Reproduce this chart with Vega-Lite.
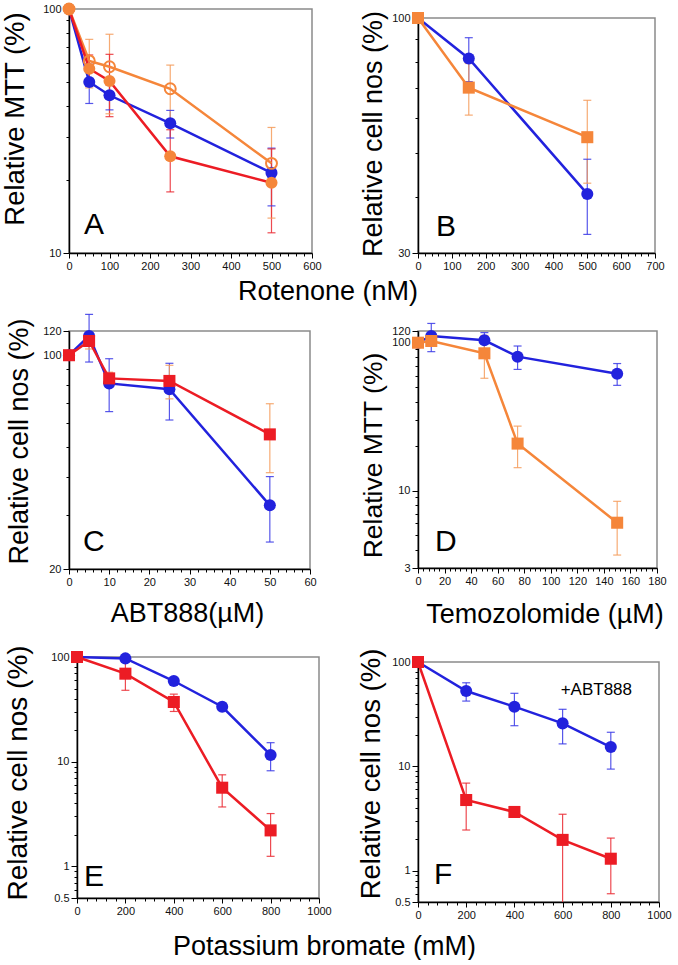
{
"$schema": "https://vega.github.io/schema/vega-lite/v6.json",
"background": "white",
"padding": {"left": 0, "top": -2, "right": 0, "bottom": 0},
"config": {
 "font": "Liberation Sans",
 "view": {"stroke": "#8a8a8a", "strokeWidth": 1.5},
 "axis": {"domainColor": "#000", "domainWidth": 1.5, "tickColor": "#000", "tickWidth": 1, "labelFont": "Liberation Sans", "labelFontSize": 11, "labelColor": "#111", "labelPadding": 2, "titleFont": "Liberation Sans", "titleFontWeight": "normal", "titleColor": "#000", "grid": false, "labelOverlap": false, "labelFlush": false, "labelBound": false}
},
"datasets": {
 "A": [
  {"s":"blue","x":0,"y":100},
  {"s":"blue","x":50,"y":50.2,"lo":41,"hi":59.4},
  {"s":"blue","x":100,"y":44.3,"lo":38.6,"hi":50},
  {"s":"blue","x":250,"y":34,"lo":29.6,"hi":38.4},
  {"s":"blue","x":500,"y":21.3,"lo":15.6,"hi":26.9},
  {"s":"openO","x":0,"y":100},
  {"s":"openO","x":50,"y":61.3,"lo":47.5,"hi":75.1},
  {"s":"openO","x":100,"y":58,"lo":37.2,"hi":78.8},
  {"s":"openO","x":250,"y":47.1,"lo":35.3,"hi":58.9},
  {"s":"openO","x":500,"y":23.3,"lo":13.9,"hi":32.7},
  {"s":"redO","x":0,"y":100},
  {"s":"redO","x":50,"y":56.9,"lo":49,"hi":64.8},
  {"s":"redO","x":100,"y":50.7,"lo":36.2,"hi":65.2},
  {"s":"redO","x":250,"y":24.9,"lo":17.8,"hi":32},
  {"s":"redO","x":500,"y":19.4,"lo":12.1,"hi":26.7}
 ],
 "B": [
  {"s":"blue","x":0,"y":100},
  {"s":"blue","x":150,"y":81.3,"lo":72.2,"hi":90.4},
  {"s":"blue","x":500,"y":40.6,"lo":33,"hi":48.5},
  {"s":"orangeSq","x":0,"y":100},
  {"s":"orangeSq","x":150,"y":70,"lo":60.8,"hi":79.2},
  {"s":"orangeSq","x":500,"y":54.3,"lo":42.9,"hi":65.6}
 ],
 "C": [
  {"s":"blue","x":0,"y":100},
  {"s":"blue","x":5,"y":115.6,"lo":95,"hi":136},
  {"s":"blue","x":10,"y":80.9,"lo":65.4,"hi":97.4},
  {"s":"blue","x":25,"y":77.4,"lo":61.4,"hi":94.1},
  {"s":"blue","x":50,"y":32.3,"lo":24.5,"hi":40.1},
  {"s":"redSqOe","x":0,"y":100},
  {"s":"redSqOe","x":5,"y":111.3,"lo":104.8,"hi":117.8},
  {"s":"redSqOe","x":10,"y":84,"lo":80,"hi":88},
  {"s":"redSqOe","x":25,"y":82.4,"lo":72,"hi":92.7},
  {"s":"redSqOe","x":50,"y":55.1,"lo":41.3,"hi":69.4}
 ],
 "D": [
  {"s":"blue","x":0,"y":100},
  {"s":"blue","x":10,"y":111,"lo":87,"hi":135},
  {"s":"blue","x":50,"y":103.8,"lo":91,"hi":117},
  {"s":"blue","x":75,"y":80.5,"lo":66,"hi":95},
  {"s":"blue","x":150,"y":61.7,"lo":51.5,"hi":72.3},
  {"s":"orangeSq","x":0,"y":100},
  {"s":"orangeSq","x":10,"y":102.7},
  {"s":"orangeSq","x":50,"y":84.8,"lo":57.5,"hi":112},
  {"s":"orangeSq","x":75,"y":20.8,"lo":14.3,"hi":27.3},
  {"s":"orangeSq","x":150,"y":6.07,"lo":3.67,"hi":8.47}
 ],
 "E": [
  {"s":"blue","x":0,"y":100},
  {"s":"blue","x":200,"y":97},
  {"s":"blue","x":400,"y":59,"lo":55,"hi":63},
  {"s":"blue","x":600,"y":33.5,"lo":31,"hi":36},
  {"s":"blue","x":800,"y":11.6,"lo":8.2,"hi":15.2},
  {"s":"redSq","x":0,"y":100},
  {"s":"redSq","x":200,"y":69.3,"lo":48.1,"hi":90.5},
  {"s":"redSq","x":400,"y":37.2,"lo":30.2,"hi":44.2},
  {"s":"redSq","x":600,"y":5.65,"lo":3.7,"hi":7.5},
  {"s":"redSq","x":800,"y":2.21,"lo":1.25,"hi":3.2}
 ],
 "F": [
  {"s":"blue","x":0,"y":100},
  {"s":"blue","x":200,"y":52.7,"lo":42.2,"hi":63.2},
  {"s":"blue","x":400,"y":37.3,"lo":24.5,"hi":50.1},
  {"s":"blue","x":600,"y":25.8,"lo":16.4,"hi":35.2},
  {"s":"blue","x":800,"y":15.3,"lo":9.4,"hi":21.2},
  {"s":"redSq","x":0,"y":100},
  {"s":"redSq","x":200,"y":4.75,"lo":2.45,"hi":6.9},
  {"s":"redSq","x":400,"y":3.65,"lo":3.45,"hi":3.85},
  {"s":"redSq","x":600,"y":1.97,"lo":0.47,"hi":3.47},
  {"s":"redSq","x":800,"y":1.3,"lo":0.6,"hi":2.05}
 ]
},
"hconcat": [
 {"vconcat": [
  {"vconcat": [
   {
    "width": 243, "height": 244,
    "data": {"name": "A"},
    "encoding": {
     "x": {"field": "x", "type": "quantitative", "scale": {"domain": [0, 600], "nice": false, "zero": false},
      "axis": {"values": [0,20,40,60,80,100,120,140,160,180,200,220,240,260,280,300,320,340,360,380,400,420,440,460,480,500,520,540,560,580,600],
       "labelExpr": "datum.value % 100 == 0 ? '' + datum.value : ''",
       "tickSize": {"condition": {"test": "datum.value % 100 == 0", "value": 5}, "value": 3},
       "title": "Rotenone (nM)", "titleX": 258.5, "titleY": 46, "titleFontSize": 27, "titleAlign": "center", "titleBaseline": "alphabetic"}},
     "y": {"field": "y", "type": "quantitative", "scale": {"type": "log", "domain": [10, 100], "nice": false},
      "axis": {"values": [10,20,30,40,50,60,70,80,90,100],
       "labelExpr": "indexof([10,100], datum.value) >= 0 ? '' + datum.value : ''",
       "tickSize": {"condition": {"test": "indexof([10,100], datum.value) >= 0", "value": 6}, "value": 3},
       "title": "Relative MTT (%)", "titleX": -45.5, "titleY": 109.5, "titleFontSize": 27.5, "titleAngle": 270, "titleAlign": "center", "titleBaseline": "alphabetic"}}
    },
    "layer": [
     {"mark": {"type": "rule", "strokeWidth": 1.2, "opacity": 0.85}, "encoding": {"y": {"field": "lo", "type": "quantitative"}, "y2": {"field": "hi"}, "stroke": {"field": "s", "type": "nominal", "legend": null, "scale": {"domain": ["blue","redO","openO","orangeSq","redSq","redSqOe"], "range": ["#3a3ae6","#ea2a32","#f59c5c","#f59c5c","#ea2a32","#f59c5c"]}}}},
     {"mark": {"type": "rule", "strokeWidth": 1.2, "opacity": 0.85, "xOffset": -4, "x2Offset": 4}, "encoding": {"x2": {"field": "x"}, "y": {"field": "lo", "type": "quantitative"}, "stroke": {"field": "s", "type": "nominal", "legend": null, "scale": {"domain": ["blue","redO","openO","orangeSq","redSq","redSqOe"], "range": ["#3a3ae6","#ea2a32","#f59c5c","#f59c5c","#ea2a32","#f59c5c"]}}}},
     {"mark": {"type": "rule", "strokeWidth": 1.2, "opacity": 0.85, "xOffset": -4, "x2Offset": 4}, "encoding": {"x2": {"field": "x"}, "y": {"field": "hi", "type": "quantitative"}, "stroke": {"field": "s", "type": "nominal", "legend": null, "scale": {"domain": ["blue","redO","openO","orangeSq","redSq","redSqOe"], "range": ["#3a3ae6","#ea2a32","#f59c5c","#f59c5c","#ea2a32","#f59c5c"]}}}},
     {"mark": {"type": "line", "strokeWidth": 2.5}, "encoding": {"color": {"field": "s", "type": "nominal", "legend": null, "scale": {"domain": ["blue","redO","openO","orangeSq","redSq","redSqOe"], "range": ["#2222dd","#ec1c24","#f5863a","#f5863a","#ec1c24","#ec1c24"]}}}},
     {"transform": [{"filter": "datum.s != 'openO'"}], "mark": {"type": "point", "filled": true, "size": 145, "opacity": 1, "strokeWidth": 0}, "encoding": {"fill": {"field": "s", "type": "nominal", "legend": null, "scale": {"domain": ["blue","redO","openO","orangeSq","redSq","redSqOe"], "range": ["#2222dd","#f5863a","#f5863a","#f5863a","#ec1c24","#ec1c24"]}}, "shape": {"field": "s", "type": "nominal", "legend": null, "scale": {"domain": ["blue","redO","openO","orangeSq","redSq","redSqOe"], "range": ["circle","circle","circle","square","square","square"]}}}},
     {"transform": [{"filter": "datum.s == 'openO'"}], "mark": {"type": "point", "filled": false, "size": 120, "stroke": "#f5863a", "strokeWidth": 2, "opacity": 1}},
     {"data": {"values": [{"t": "A", "x": 37, "y": 12}]}, "mark": {"type": "text", "fontSize": 30, "align": "left", "baseline": "alphabetic", "font": "Liberation Sans", "color": "#000"}, "encoding": {"text": {"field": "t"}}}
    ]
   },
   {
    "width": 241, "height": 238,
    "data": {"name": "C"},
    "encoding": {
     "x": {"field": "x", "type": "quantitative", "scale": {"domain": [0, 60], "nice": false, "zero": false},
      "axis": {"values": [0,2,4,6,8,10,12,14,16,18,20,22,24,26,28,30,32,34,36,38,40,42,44,46,48,50,52,54,56,58,60],
       "labelExpr": "datum.value % 10 == 0 ? '' + datum.value : ''",
       "tickSize": {"condition": {"test": "datum.value % 10 == 0", "value": 5}, "value": 3},
       "title": "ABT888(µM)", "titleX": 118, "titleY": 52, "titleFontSize": 27, "titleAlign": "center", "titleBaseline": "alphabetic"}},
     "y": {"field": "y", "type": "quantitative", "scale": {"type": "log", "domain": [20, 120], "nice": false},
      "axis": {"values": [20,30,40,50,60,70,80,90,100,120],
       "labelExpr": "indexof([20,100,120], datum.value) >= 0 ? '' + datum.value : ''",
       "tickSize": {"condition": {"test": "indexof([20,100,120], datum.value) >= 0", "value": 6}, "value": 3},
       "title": "Relative cell nos (%)", "titleX": -42, "titleY": 110, "titleFontSize": 27, "titleAngle": 270, "titleAlign": "center", "titleBaseline": "alphabetic"}}
    },
    "layer": [
     {"mark": {"type": "rule", "strokeWidth": 1.2, "opacity": 0.85}, "encoding": {"y": {"field": "lo", "type": "quantitative"}, "y2": {"field": "hi"}, "stroke": {"field": "s", "type": "nominal", "legend": null, "scale": {"domain": ["blue","redO","openO","orangeSq","redSq","redSqOe"], "range": ["#3a3ae6","#ea2a32","#f59c5c","#f59c5c","#ea2a32","#f59c5c"]}}}},
     {"mark": {"type": "rule", "strokeWidth": 1.2, "opacity": 0.85, "xOffset": -4, "x2Offset": 4}, "encoding": {"x2": {"field": "x"}, "y": {"field": "lo", "type": "quantitative"}, "stroke": {"field": "s", "type": "nominal", "legend": null, "scale": {"domain": ["blue","redO","openO","orangeSq","redSq","redSqOe"], "range": ["#3a3ae6","#ea2a32","#f59c5c","#f59c5c","#ea2a32","#f59c5c"]}}}},
     {"mark": {"type": "rule", "strokeWidth": 1.2, "opacity": 0.85, "xOffset": -4, "x2Offset": 4}, "encoding": {"x2": {"field": "x"}, "y": {"field": "hi", "type": "quantitative"}, "stroke": {"field": "s", "type": "nominal", "legend": null, "scale": {"domain": ["blue","redO","openO","orangeSq","redSq","redSqOe"], "range": ["#3a3ae6","#ea2a32","#f59c5c","#f59c5c","#ea2a32","#f59c5c"]}}}},
     {"mark": {"type": "line", "strokeWidth": 2.5}, "encoding": {"color": {"field": "s", "type": "nominal", "legend": null, "scale": {"domain": ["blue","redO","openO","orangeSq","redSq","redSqOe"], "range": ["#2222dd","#ec1c24","#f5863a","#f5863a","#ec1c24","#ec1c24"]}}}},
     {"mark": {"type": "point", "filled": true, "size": 145, "opacity": 1, "strokeWidth": 0}, "encoding": {"fill": {"field": "s", "type": "nominal", "legend": null, "scale": {"domain": ["blue","redO","openO","orangeSq","redSq","redSqOe"], "range": ["#2222dd","#f5863a","#f5863a","#f5863a","#ec1c24","#ec1c24"]}}, "shape": {"field": "s", "type": "nominal", "legend": null, "scale": {"domain": ["blue","redO","openO","orangeSq","redSq","redSqOe"], "range": ["circle","circle","circle","square","square","square"]}}}},
     {"data": {"values": [{"t": "C", "x": 3.5, "y": 22.9}]}, "mark": {"type": "text", "fontSize": 30, "align": "left", "baseline": "alphabetic", "font": "Liberation Sans", "color": "#000"}, "encoding": {"text": {"field": "t"}}}
    ]
   }
  ], "spacing": 78, "bounds": "flush"},
  {"hconcat": [
   {"width": 1, "height": 1, "data": {"values": []}, "mark": "point", "view": {"stroke": null}},
   {
    "width": 242, "height": 241,
    "data": {"name": "E"},
    "encoding": {
     "x": {"field": "x", "type": "quantitative", "scale": {"domain": [0, 1000], "nice": false, "zero": false},
      "axis": {"values": [0,40,80,120,160,200,240,280,320,360,400,440,480,520,560,600,640,680,720,760,800,840,880,920,960,1000],
       "labelExpr": "datum.value % 200 == 0 ? '' + datum.value : ''",
       "tickSize": {"condition": {"test": "datum.value % 200 == 0", "value": 5}, "value": 3},
       "title": "Potassium bromate (mM)", "titleX": 247, "titleY": 56, "titleFontSize": 27, "titleAlign": "center", "titleBaseline": "alphabetic"}},
     "y": {"field": "y", "type": "quantitative", "scale": {"type": "log", "domain": [0.5, 100], "nice": false},
      "axis": {"values": [0.5,0.6,0.7,0.8,0.9,1,2,3,4,5,6,7,8,9,10,20,30,40,50,60,70,80,90,100],
       "labelExpr": "indexof([0.5,1,10,100], datum.value) >= 0 ? '' + datum.value : ''",
       "tickSize": {"condition": {"test": "indexof([0.5,1,10,100], datum.value) >= 0", "value": 6}, "value": 3},
       "title": "Relative cell nos (%)", "titleX": -51, "titleY": 115.5, "titleFontSize": 28, "titleAngle": 270, "titleAlign": "center", "titleBaseline": "alphabetic"}}
    },
    "layer": [
     {"mark": {"type": "rule", "strokeWidth": 1.2, "opacity": 0.85}, "encoding": {"y": {"field": "lo", "type": "quantitative"}, "y2": {"field": "hi"}, "stroke": {"field": "s", "type": "nominal", "legend": null, "scale": {"domain": ["blue","redO","openO","orangeSq","redSq","redSqOe"], "range": ["#3a3ae6","#ea2a32","#f59c5c","#f59c5c","#ea2a32","#f59c5c"]}}}},
     {"mark": {"type": "rule", "strokeWidth": 1.2, "opacity": 0.85, "xOffset": -4, "x2Offset": 4}, "encoding": {"x2": {"field": "x"}, "y": {"field": "lo", "type": "quantitative"}, "stroke": {"field": "s", "type": "nominal", "legend": null, "scale": {"domain": ["blue","redO","openO","orangeSq","redSq","redSqOe"], "range": ["#3a3ae6","#ea2a32","#f59c5c","#f59c5c","#ea2a32","#f59c5c"]}}}},
     {"mark": {"type": "rule", "strokeWidth": 1.2, "opacity": 0.85, "xOffset": -4, "x2Offset": 4}, "encoding": {"x2": {"field": "x"}, "y": {"field": "hi", "type": "quantitative"}, "stroke": {"field": "s", "type": "nominal", "legend": null, "scale": {"domain": ["blue","redO","openO","orangeSq","redSq","redSqOe"], "range": ["#3a3ae6","#ea2a32","#f59c5c","#f59c5c","#ea2a32","#f59c5c"]}}}},
     {"mark": {"type": "line", "strokeWidth": 2.5}, "encoding": {"color": {"field": "s", "type": "nominal", "legend": null, "scale": {"domain": ["blue","redO","openO","orangeSq","redSq","redSqOe"], "range": ["#2222dd","#ec1c24","#f5863a","#f5863a","#ec1c24","#ec1c24"]}}}},
     {"mark": {"type": "point", "filled": true, "size": 145, "opacity": 1, "strokeWidth": 0}, "encoding": {"fill": {"field": "s", "type": "nominal", "legend": null, "scale": {"domain": ["blue","redO","openO","orangeSq","redSq","redSqOe"], "range": ["#2222dd","#f5863a","#f5863a","#f5863a","#ec1c24","#ec1c24"]}}, "shape": {"field": "s", "type": "nominal", "legend": null, "scale": {"domain": ["blue","redO","openO","orangeSq","redSq","redSqOe"], "range": ["circle","circle","circle","square","square","square"]}}}},
     {"data": {"values": [{"t": "E", "x": 29, "y": 0.651}]}, "mark": {"type": "text", "fontSize": 30, "align": "left", "baseline": "alphabetic", "font": "Liberation Sans", "color": "#000"}, "encoding": {"text": {"field": "t"}}}
    ]
   }
  ], "spacing": 7, "bounds": "flush"}
 ], "spacing": 648, "bounds": "flush"},
 {"vconcat": [
  {"vconcat": [
   {"width": 1, "height": 1, "data": {"values": []}, "mark": "point", "view": {"stroke": null}},
   {
    "width": 237, "height": 235,
    "data": {"name": "B"},
    "encoding": {
     "x": {"field": "x", "type": "quantitative", "scale": {"domain": [0, 700], "nice": false, "zero": false},
      "axis": {"values": [0,20,40,60,80,100,120,140,160,180,200,220,240,260,280,300,320,340,360,380,400,420,440,460,480,500,520,540,560,580,600,620,640,660,680,700],
       "labelExpr": "datum.value % 100 == 0 ? '' + datum.value : ''",
       "tickSize": {"condition": {"test": "datum.value % 100 == 0", "value": 5}, "value": 3},
       "title": null}},
     "y": {"field": "y", "type": "quantitative", "scale": {"type": "log", "domain": [30, 100], "nice": false},
      "axis": {"values": [30,40,50,60,70,80,90,100],
       "labelExpr": "indexof([30,100], datum.value) >= 0 ? '' + datum.value : ''",
       "tickSize": {"condition": {"test": "indexof([30,100], datum.value) >= 0", "value": 6}, "value": 3},
       "title": "Relative cell nos (%)", "titleX": -37, "titleY": 115.5, "titleFontSize": 27, "titleAngle": 270, "titleAlign": "center", "titleBaseline": "alphabetic"}}
    },
    "layer": [
     {"mark": {"type": "rule", "strokeWidth": 1.2, "opacity": 0.85}, "encoding": {"y": {"field": "lo", "type": "quantitative"}, "y2": {"field": "hi"}, "stroke": {"field": "s", "type": "nominal", "legend": null, "scale": {"domain": ["blue","redO","openO","orangeSq","redSq","redSqOe"], "range": ["#3a3ae6","#ea2a32","#f59c5c","#f59c5c","#ea2a32","#f59c5c"]}}}},
     {"mark": {"type": "rule", "strokeWidth": 1.2, "opacity": 0.85, "xOffset": -4, "x2Offset": 4}, "encoding": {"x2": {"field": "x"}, "y": {"field": "lo", "type": "quantitative"}, "stroke": {"field": "s", "type": "nominal", "legend": null, "scale": {"domain": ["blue","redO","openO","orangeSq","redSq","redSqOe"], "range": ["#3a3ae6","#ea2a32","#f59c5c","#f59c5c","#ea2a32","#f59c5c"]}}}},
     {"mark": {"type": "rule", "strokeWidth": 1.2, "opacity": 0.85, "xOffset": -4, "x2Offset": 4}, "encoding": {"x2": {"field": "x"}, "y": {"field": "hi", "type": "quantitative"}, "stroke": {"field": "s", "type": "nominal", "legend": null, "scale": {"domain": ["blue","redO","openO","orangeSq","redSq","redSqOe"], "range": ["#3a3ae6","#ea2a32","#f59c5c","#f59c5c","#ea2a32","#f59c5c"]}}}},
     {"mark": {"type": "line", "strokeWidth": 2.5}, "encoding": {"color": {"field": "s", "type": "nominal", "legend": null, "scale": {"domain": ["blue","redO","openO","orangeSq","redSq","redSqOe"], "range": ["#2222dd","#ec1c24","#f5863a","#f5863a","#ec1c24","#ec1c24"]}}}},
     {"mark": {"type": "point", "filled": true, "size": 145, "opacity": 1, "strokeWidth": 0}, "encoding": {"fill": {"field": "s", "type": "nominal", "legend": null, "scale": {"domain": ["blue","redO","openO","orangeSq","redSq","redSqOe"], "range": ["#2222dd","#f5863a","#f5863a","#f5863a","#ec1c24","#ec1c24"]}}, "shape": {"field": "s", "type": "nominal", "legend": null, "scale": {"domain": ["blue","redO","openO","orangeSq","redSq","redSqOe"], "range": ["circle","circle","circle","square","square","square"]}}}},
     {"data": {"values": [{"t": "B", "x": 53, "y": 32.7}]}, "mark": {"type": "text", "fontSize": 30, "align": "left", "baseline": "alphabetic", "font": "Liberation Sans", "color": "#000"}, "encoding": {"text": {"field": "t"}}}
    ]
   }
  ], "spacing": 8, "bounds": "flush"},
  {"vconcat": [
   {
    "width": 239, "height": 237,
    "data": {"name": "D"},
    "encoding": {
     "x": {"field": "x", "type": "quantitative", "scale": {"domain": [0, 180], "nice": false, "zero": false},
      "axis": {"values": [0,4,8,12,16,20,24,28,32,36,40,44,48,52,56,60,64,68,72,76,80,84,88,92,96,100,104,108,112,116,120,124,128,132,136,140,144,148,152,156,160,164,168,172,176,180],
       "labelExpr": "datum.value % 20 == 0 ? '' + datum.value : ''",
       "tickSize": {"condition": {"test": "datum.value % 20 == 0", "value": 5}, "value": 3},
       "title": "Temozolomide (µM)", "titleX": 126.5, "titleY": 54, "titleFontSize": 27, "titleAlign": "center", "titleBaseline": "alphabetic"}},
     "y": {"field": "y", "type": "quantitative", "scale": {"type": "log", "domain": [3, 120], "nice": false},
      "axis": {"values": [3,4,5,6,7,8,9,10,20,30,40,50,60,70,80,90,100,120],
       "labelExpr": "indexof([3,10,100,120], datum.value) >= 0 ? '' + datum.value : ''",
       "tickSize": {"condition": {"test": "indexof([3,10,100,120], datum.value) >= 0", "value": 6}, "value": 3},
       "title": "Relative MTT (%)", "titleX": -37, "titleY": 124, "titleFontSize": 26.5, "titleAngle": 270, "titleAlign": "center", "titleBaseline": "alphabetic"}}
    },
    "layer": [
     {"mark": {"type": "rule", "strokeWidth": 1.2, "opacity": 0.85}, "encoding": {"y": {"field": "lo", "type": "quantitative"}, "y2": {"field": "hi"}, "stroke": {"field": "s", "type": "nominal", "legend": null, "scale": {"domain": ["blue","redO","openO","orangeSq","redSq","redSqOe"], "range": ["#3a3ae6","#ea2a32","#f59c5c","#f59c5c","#ea2a32","#f59c5c"]}}}},
     {"mark": {"type": "rule", "strokeWidth": 1.2, "opacity": 0.85, "xOffset": -4, "x2Offset": 4}, "encoding": {"x2": {"field": "x"}, "y": {"field": "lo", "type": "quantitative"}, "stroke": {"field": "s", "type": "nominal", "legend": null, "scale": {"domain": ["blue","redO","openO","orangeSq","redSq","redSqOe"], "range": ["#3a3ae6","#ea2a32","#f59c5c","#f59c5c","#ea2a32","#f59c5c"]}}}},
     {"mark": {"type": "rule", "strokeWidth": 1.2, "opacity": 0.85, "xOffset": -4, "x2Offset": 4}, "encoding": {"x2": {"field": "x"}, "y": {"field": "hi", "type": "quantitative"}, "stroke": {"field": "s", "type": "nominal", "legend": null, "scale": {"domain": ["blue","redO","openO","orangeSq","redSq","redSqOe"], "range": ["#3a3ae6","#ea2a32","#f59c5c","#f59c5c","#ea2a32","#f59c5c"]}}}},
     {"mark": {"type": "line", "strokeWidth": 2.5}, "encoding": {"color": {"field": "s", "type": "nominal", "legend": null, "scale": {"domain": ["blue","redO","openO","orangeSq","redSq","redSqOe"], "range": ["#2222dd","#ec1c24","#f5863a","#f5863a","#ec1c24","#ec1c24"]}}}},
     {"mark": {"type": "point", "filled": true, "size": 145, "opacity": 1, "strokeWidth": 0}, "encoding": {"fill": {"field": "s", "type": "nominal", "legend": null, "scale": {"domain": ["blue","redO","openO","orangeSq","redSq","redSqOe"], "range": ["#2222dd","#f5863a","#f5863a","#f5863a","#ec1c24","#ec1c24"]}}, "shape": {"field": "s", "type": "nominal", "legend": null, "scale": {"domain": ["blue","redO","openO","orangeSq","redSq","redSqOe"], "range": ["circle","circle","circle","square","square","square"]}}}},
     {"data": {"values": [{"t": "D", "x": 12.8, "y": 3.91}]}, "mark": {"type": "text", "fontSize": 30, "align": "left", "baseline": "alphabetic", "font": "Liberation Sans", "color": "#000"}, "encoding": {"text": {"field": "t"}}}
    ]
   },
   {
    "width": 241, "height": 240,
    "data": {"name": "F"},
    "encoding": {
     "x": {"field": "x", "type": "quantitative", "scale": {"domain": [0, 1000], "nice": false, "zero": false},
      "axis": {"values": [0,40,80,120,160,200,240,280,320,360,400,440,480,520,560,600,640,680,720,760,800,840,880,920,960,1000],
       "labelExpr": "datum.value % 200 == 0 ? '' + datum.value : ''",
       "tickSize": {"condition": {"test": "datum.value % 200 == 0", "value": 5}, "value": 3},
       "title": null}},
     "y": {"field": "y", "type": "quantitative", "scale": {"type": "log", "domain": [0.5, 100], "nice": false},
      "axis": {"values": [0.5,0.6,0.7,0.8,0.9,1,2,3,4,5,6,7,8,9,10,20,30,40,50,60,70,80,90,100],
       "labelExpr": "indexof([0.5,1,10,100], datum.value) >= 0 ? '' + datum.value : ''",
       "tickSize": {"condition": {"test": "indexof([0.5,1,10,100], datum.value) >= 0", "value": 6}, "value": 3},
       "title": "Relative cell nos (%)", "titleX": -39, "titleY": 111.5, "titleFontSize": 27.5, "titleAngle": 270, "titleAlign": "center", "titleBaseline": "alphabetic"}}
    },
    "layer": [
     {"mark": {"type": "rule", "strokeWidth": 1.2, "opacity": 0.85, "clip": true}, "encoding": {"y": {"field": "lo", "type": "quantitative"}, "y2": {"field": "hi"}, "stroke": {"field": "s", "type": "nominal", "legend": null, "scale": {"domain": ["blue","redO","openO","orangeSq","redSq","redSqOe"], "range": ["#3a3ae6","#ea2a32","#f59c5c","#f59c5c","#ea2a32","#f59c5c"]}}}},
     {"mark": {"type": "rule", "strokeWidth": 1.2, "opacity": 0.85, "xOffset": -4, "x2Offset": 4, "clip": true}, "encoding": {"x2": {"field": "x"}, "y": {"field": "lo", "type": "quantitative"}, "stroke": {"field": "s", "type": "nominal", "legend": null, "scale": {"domain": ["blue","redO","openO","orangeSq","redSq","redSqOe"], "range": ["#3a3ae6","#ea2a32","#f59c5c","#f59c5c","#ea2a32","#f59c5c"]}}}},
     {"mark": {"type": "rule", "strokeWidth": 1.2, "opacity": 0.85, "xOffset": -4, "x2Offset": 4, "clip": true}, "encoding": {"x2": {"field": "x"}, "y": {"field": "hi", "type": "quantitative"}, "stroke": {"field": "s", "type": "nominal", "legend": null, "scale": {"domain": ["blue","redO","openO","orangeSq","redSq","redSqOe"], "range": ["#3a3ae6","#ea2a32","#f59c5c","#f59c5c","#ea2a32","#f59c5c"]}}}},
     {"mark": {"type": "line", "strokeWidth": 2.5}, "encoding": {"color": {"field": "s", "type": "nominal", "legend": null, "scale": {"domain": ["blue","redO","openO","orangeSq","redSq","redSqOe"], "range": ["#2222dd","#ec1c24","#f5863a","#f5863a","#ec1c24","#ec1c24"]}}}},
     {"mark": {"type": "point", "filled": true, "size": 145, "opacity": 1, "strokeWidth": 0}, "encoding": {"fill": {"field": "s", "type": "nominal", "legend": null, "scale": {"domain": ["blue","redO","openO","orangeSq","redSq","redSqOe"], "range": ["#2222dd","#f5863a","#f5863a","#f5863a","#ec1c24","#ec1c24"]}}, "shape": {"field": "s", "type": "nominal", "legend": null, "scale": {"domain": ["blue","redO","openO","orangeSq","redSq","redSqOe"], "range": ["circle","circle","circle","square","square","square"]}}}},
     {"data": {"values": [{"t": "F", "x": 66, "y": 0.744}]}, "mark": {"type": "text", "fontSize": 30, "align": "left", "baseline": "alphabetic", "font": "Liberation Sans", "color": "#000"}, "encoding": {"text": {"field": "t"}}},
     {"data": {"values": [{"t": "+ABT888", "x": 740, "y": 54}]}, "mark": {"type": "text", "fontSize": 17, "align": "center", "baseline": "middle", "font": "Liberation Sans", "color": "#000"}, "encoding": {"text": {"field": "t"}}}
    ]
   }
  ], "spacing": 94, "bounds": "flush"}
 ], "spacing": 322, "bounds": "flush"}
],
"spacing": 349,
"bounds": "flush"
}
